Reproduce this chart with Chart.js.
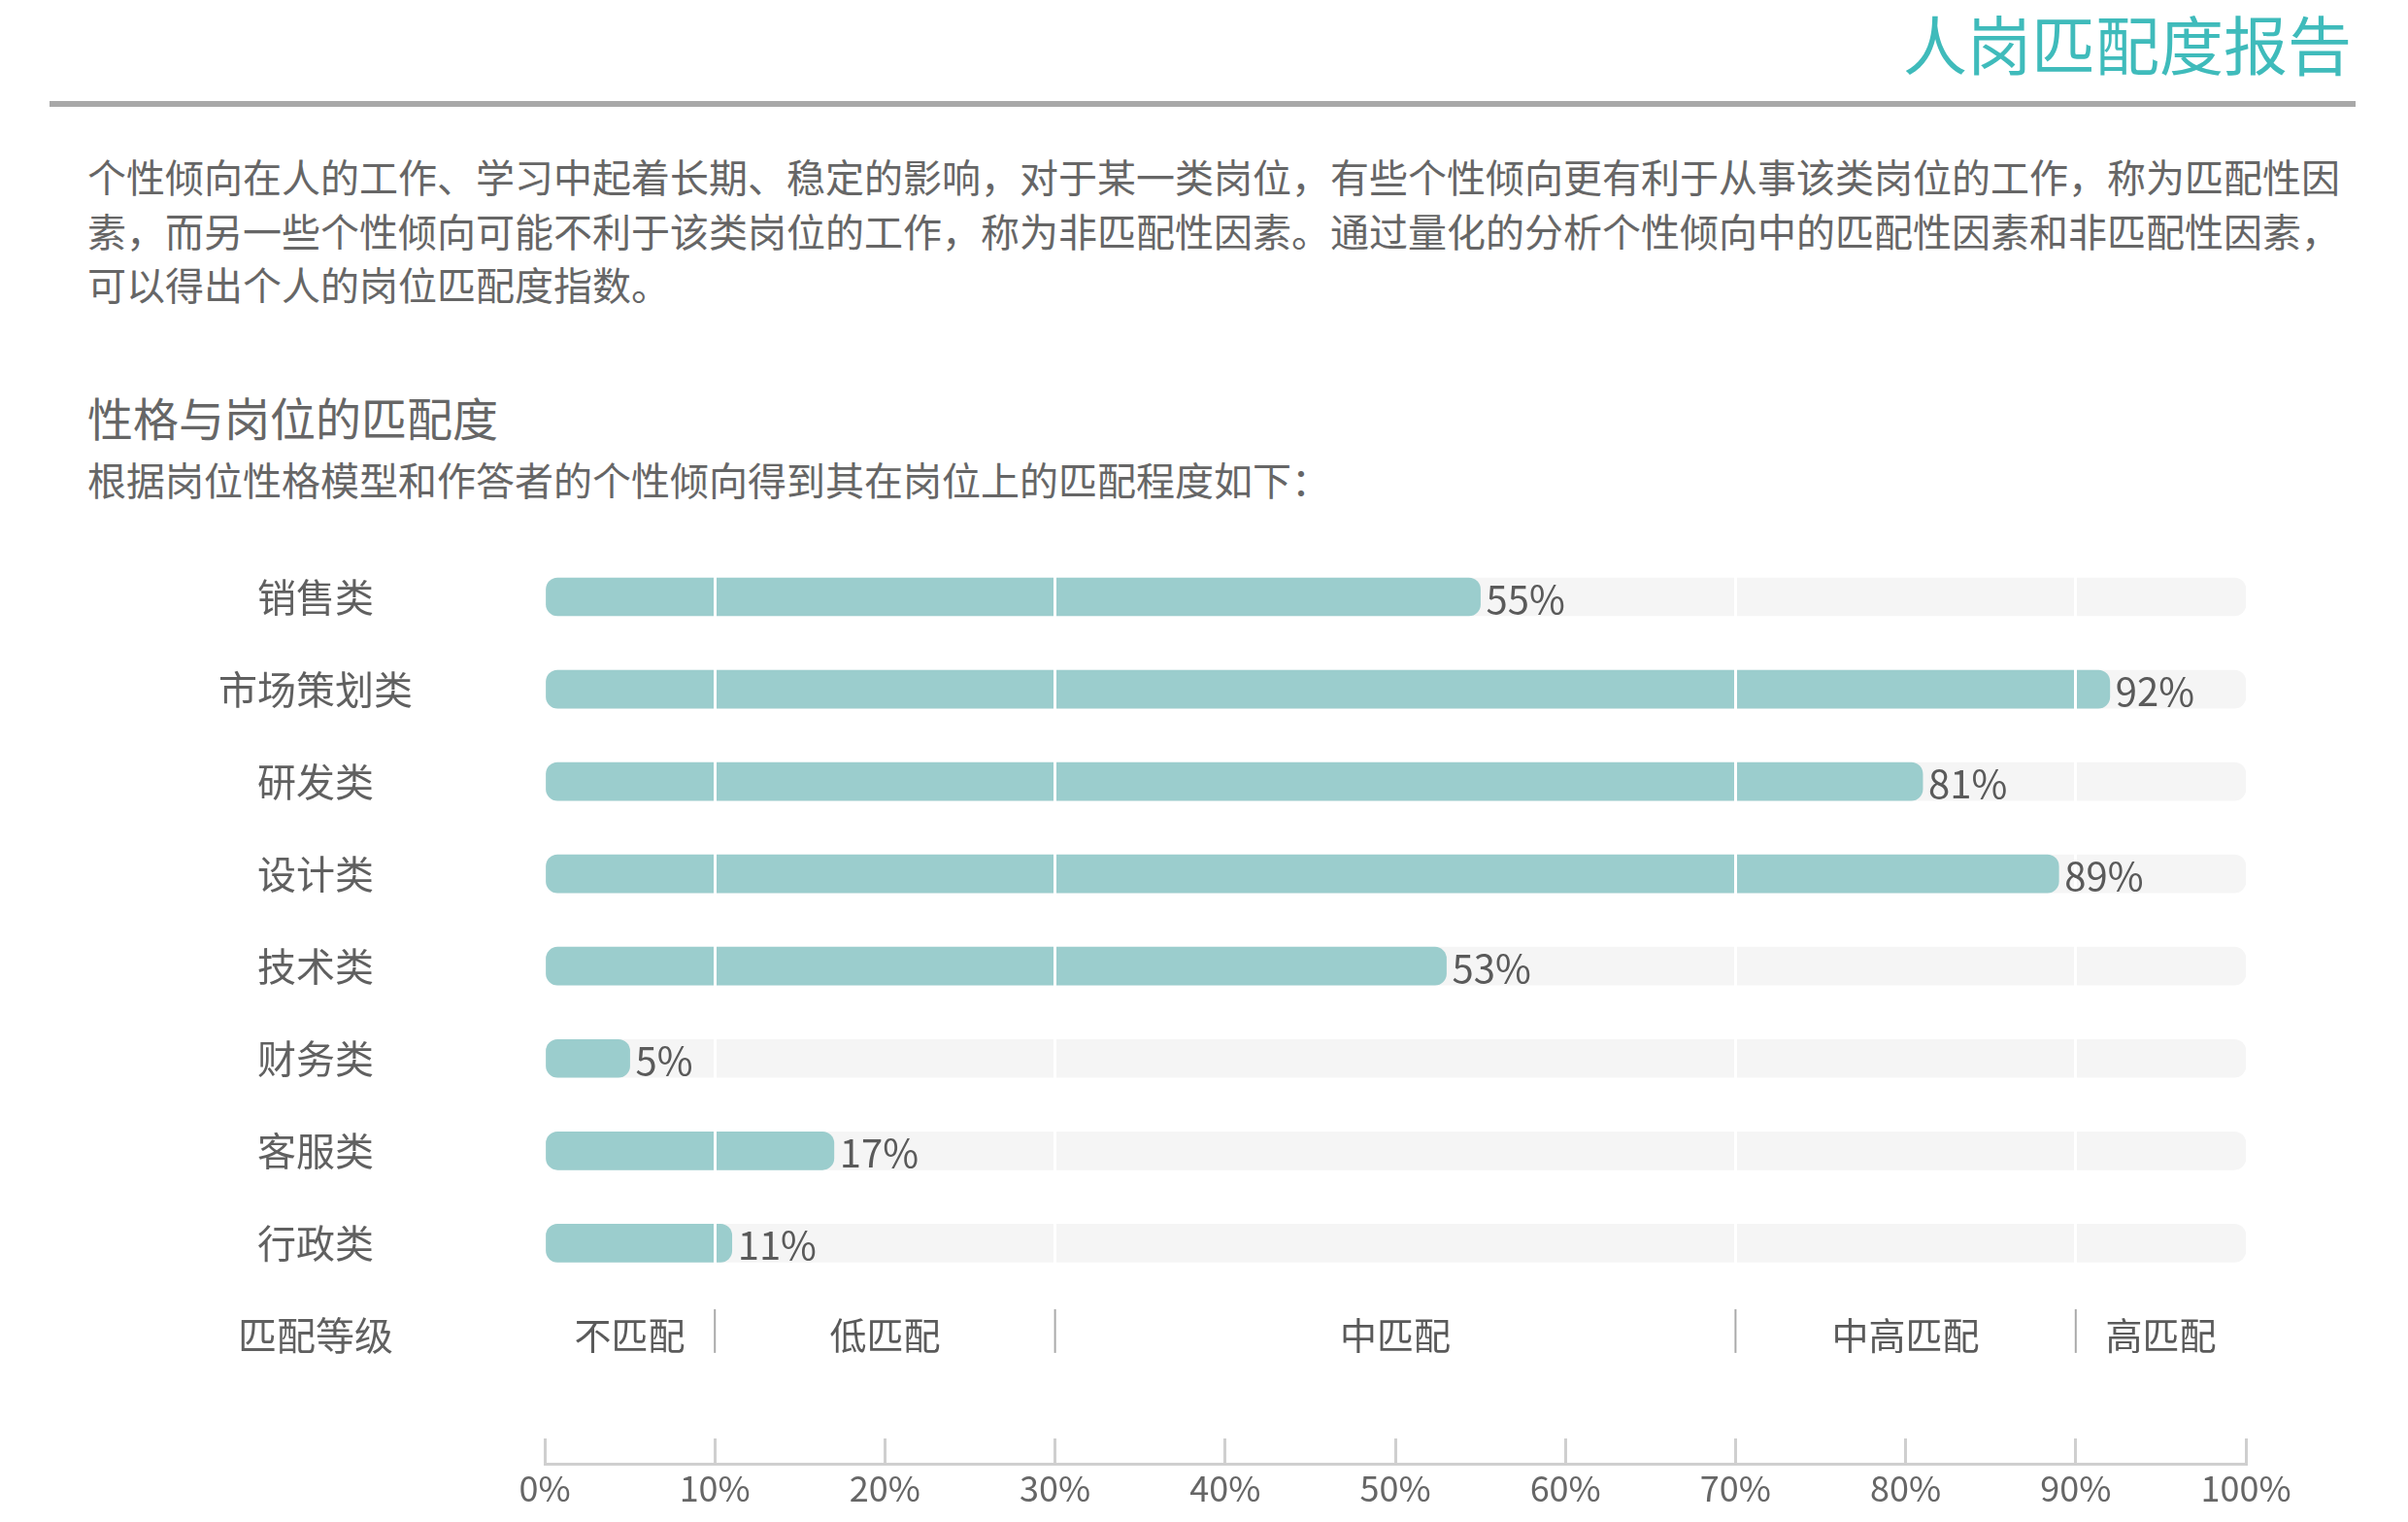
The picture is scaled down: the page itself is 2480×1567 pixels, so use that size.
<!DOCTYPE html>
<html lang="zh-CN">
<head>
<meta charset="utf-8">
<title>人岗匹配度报告</title>
<script src="https://cdn.jsdelivr.net/npm/chart.js@4.4.0/dist/chart.umd.min.js"></script>
<style>
  html, body { margin:0; padding:0; background:#fff; }
  body { width:2480px; height:1567px; position:relative; overflow:hidden; font-family:"Noto Sans CJK SC", sans-serif; color:#666; }
  .titulo { position:absolute; right:58px; top:3px; font-size:66px; line-height:80px; color:#3fbbbb; white-space:nowrap; }
  .regua { position:absolute; left:51px; top:104px; width:2375px; height:6px; background:#a8a8a8; }
  .texto { position:absolute; left:90px; top:154px; font-size:40px; line-height:55.5px; white-space:nowrap; color:#666; }
  .secao { position:absolute; left:90px; top:405px; font-size:47px; line-height:47px; white-space:nowrap; color:#666; }
  .subsecao { position:absolute; left:90px; top:473px; font-size:40px; line-height:40px; white-space:nowrap; color:#666; }
  #grafico { position:absolute; left:0; top:540px; }
</style>
</head>
<body>
<div class="titulo">人岗匹配度报告</div>
<div class="regua"></div>
<div class="texto">个性倾向在人的工作、学习中起着长期、稳定的影响，对于某一类岗位，有些个性倾向更有利于从事该类岗位的工作，称为匹配性因<br>素，而另一些个性倾向可能不利于该类岗位的工作，称为非匹配性因素。通过量化的分析个性倾向中的匹配性因素和非匹配性因素，<br>可以得出个人的岗位匹配度指数。</div>
<div class="secao">性格与岗位的匹配度</div>
<div class="subsecao">根据岗位性格模型和作答者的个性倾向得到其在岗位上的匹配程度如下：</div>
<canvas id="grafico" width="2480" height="1027"></canvas>
<script>
// Dados
const categorias = ['销售类', '市场策划类', '研发类', '设计类', '技术类', '财务类', '客服类', '行政类'];
const valores = [55, 92, 81, 89, 53, 5, 17, 11];
const linhaNivel = '匹配等级';
const niveis = ['不匹配', '低匹配', '中匹配', '中高匹配', '高匹配'];
const limitesNivel = [0, 10, 30, 70, 90, 100];

const rotulos = [...categorias, linhaNivel];
const divisas = limitesNivel.slice(1, -1);
const fonte = '"Noto Sans CJK SC", sans-serif';

// Rótulos de valor e faixa de níveis
const rotulosPlugin = {
  id: 'rotulos',
  afterDraw(chart) {
    const { ctx, scales: { x, y } } = chart;
    ctx.save();
    ctx.font = '40px ' + fonte;
    ctx.fillStyle = '#5a5a5a';
    ctx.textBaseline = 'middle';
    ctx.textAlign = 'left';
    valores.forEach((v, i) => {
      ctx.fillText(v + '%', x.getPixelForValue(v) + 6, y.getPixelForValue(i) + 2);
    });

    const yN = y.getPixelForValue(categorias.length);
    ctx.font = '38px ' + fonte;
    ctx.textAlign = 'center';
    niveis.forEach((n, k) => {
      const meio = (limitesNivel[k] + limitesNivel[k + 1]) / 2;
      ctx.fillText(n, x.getPixelForValue(meio), yN);
    });
    ctx.strokeStyle = '#aaa';
    ctx.lineWidth = 2;
    divisas.forEach(l => {
      const px = x.getPixelForValue(l);
      ctx.beginPath();
      ctx.moveTo(px, yN - 27);
      ctx.lineTo(px, yN + 18);
      ctx.stroke();
    });
    ctx.restore();
  }
};

const ctx = document.getElementById('grafico').getContext('2d');
const grafico = new Chart(ctx, {
  type: 'bar',
  data: {
    datasets: [
      {
        label: '匹配度',
        data: valores.map((v, i) => ({ x: v, y: i })),
        backgroundColor: '#9bcdcd',
        borderRadius: 12,
        borderSkipped: false,
        barThickness: 39,
        grouped: false,
        order: 1
      },
      {
        label: '满分',
        data: categorias.map((_, i) => ({ x: 100, y: i })),
        backgroundColor: '#f5f5f5',
        borderRadius: 12,
        borderSkipped: false,
        barThickness: 39,
        grouped: false,
        order: 2
      }
    ]
  },
  options: {
    indexAxis: 'y',
    responsive: false,
    animation: false,
    layout: { padding: { top: 27, right: 167, bottom: 0, left: 0 } },
    plugins: { legend: { display: false }, tooltip: { enabled: false } },
    scales: {
      x: {
        type: 'linear',
        min: 0,
        max: 100,
        position: 'bottom',
        afterFit: s => { s.height = 60; },
        ticks: { stepSize: 10, padding: 30, maxRotation: 0, color: '#666', font: { family: fonte, size: 36 }, callback: v => v + '%' },
        grid: {
          z: 1,
          color: c => divisas.includes(c.tick && c.tick.value) ? '#ffffff' : 'rgba(0,0,0,0)',
          lineWidth: 3,
          drawTicks: true,
          tickLength: -26,
          tickColor: '#cfcfcf',
          tickWidth: 3
        },
        border: { display: true, color: '#cfcfcf', width: 3, z: 1 }
      },
      y: {
        type: 'linear',
        reverse: true,
        offset: false,
        min: -0.5,
        max: 9.39,
        afterBuildTicks: s => { s.ticks = rotulos.map((_, i) => ({ value: i })); },
        afterFit: s => { s.width = 561; },
        ticks: { autoSkip: false, crossAlign: 'center', padding: 0, color: '#606060', font: { family: fonte, size: 40 }, callback: v => rotulos[v] || '' },
        // a marca invisível empurra os rótulos para o centro da coluna
        grid: { display: true, offset: false, drawOnChartArea: false, drawTicks: true, tickLength: 136, color: 'rgba(0,0,0,0)', tickColor: 'rgba(0,0,0,0)' },
        border: { display: false }
      }
    }
  },
  plugins: [rotulosPlugin]
});
</script>
</body>
</html>
